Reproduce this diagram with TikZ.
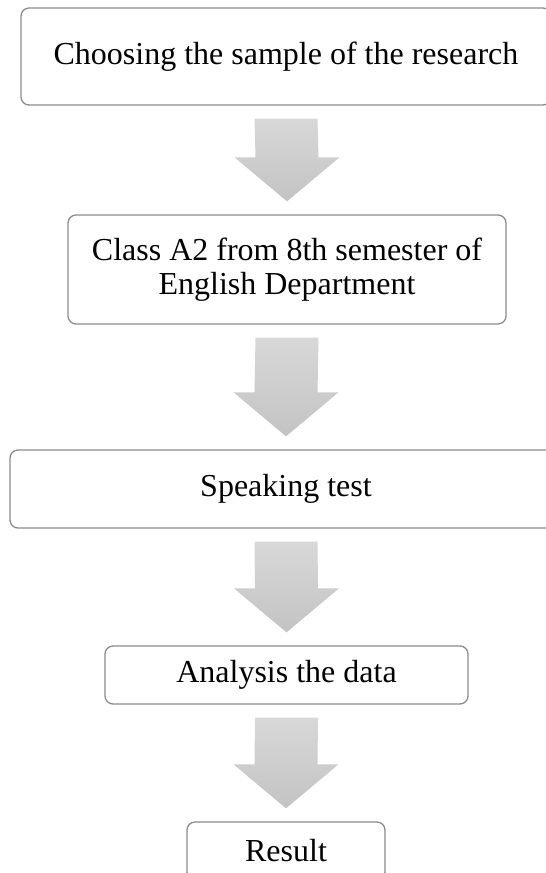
\documentclass[tikz,border=0pt]{standalone}
\usepackage{fontspec}
\setmainfont{Liberation Serif}
\usetikzlibrary{calc}

\definecolor{boxgray}{HTML}{8C8C8C}
\definecolor{arrowtop}{HTML}{D8D8D8}
\definecolor{arrowbot}{HTML}{C3C3C3}

\tikzset{
  stage/.style={draw=boxgray, line width=1.3pt, rounded corners=8pt, fill=white,
    align=center, inner sep=0pt, font=\fontsize{32}{34}\selectfont},
  flow/.style={top color=arrowtop, bottom color=arrowbot, draw=none}
}

% block arrow from the bottom of one box to the top of the next
\newcommand{\flowarrow}[2]{%
  \shade[flow] ($(#1.south)+(-31.5,-13)$) -- ($(#1.south)+(31.5,-13)$)
    -- ($(#2.north)+(31.5,57)$) -- ($(#2.north)+(52.5,57)$)
    -- ($(#2.north)+(0,13)$) -- ($(#2.north)+(-52.5,57)$)
    -- ($(#2.north)+(-31.5,57)$) -- cycle;}

\begin{document}
\begin{tikzpicture}[x=1pt,y=1pt]
\useasboundingbox (0,0) rectangle (546,-873);
\clip (0,0) rectangle (546,-873);
\node[stage, minimum width=530pt, minimum height=97pt] (sample) at (286,-56.5) {Choosing the sample of the research};
\node[stage, minimum width=438pt, minimum height=109pt] (classA2) at (287,-269.5) {Class A2 from 8th semester of\\English Department};
\node[stage, minimum width=552pt, minimum height=78pt] (speaking) at (286,-489) {Speaking test};
\node[stage, minimum width=363pt, minimum height=58pt] (analysis) at (286.5,-675) {Analysis the data};
\node[stage, minimum width=198pt, minimum height=58pt] (result) at (286,-851) {Result};
\flowarrow{sample}{classA2}
\flowarrow{classA2}{speaking}
\flowarrow{speaking}{analysis}
\flowarrow{analysis}{result}
\end{tikzpicture}
\end{document}
